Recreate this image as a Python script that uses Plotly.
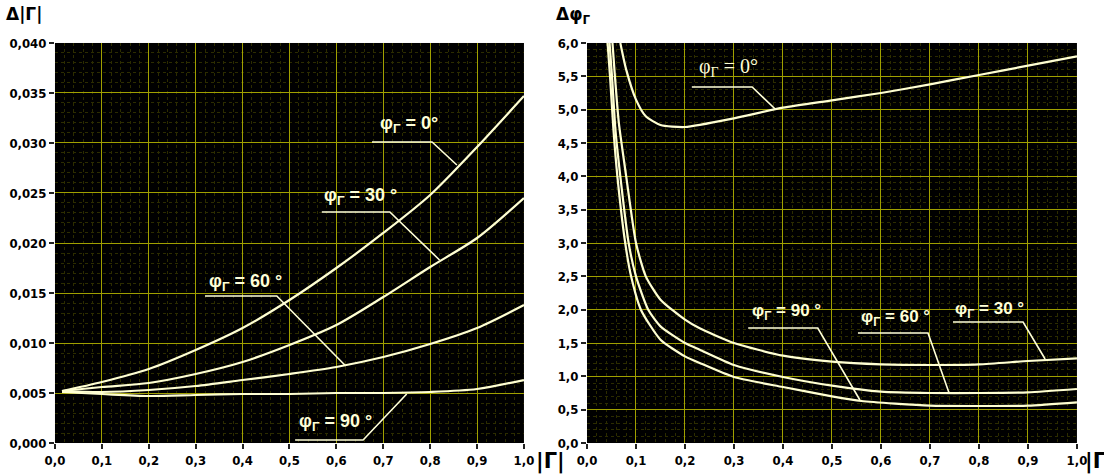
import plotly.graph_objects as go

# ---------------- data: left panel  Δ|Γ| vs |Γ| ----------------
xl_phi0 = [0.015, 0.1, 0.2, 0.3, 0.4, 0.5, 0.6, 0.7, 0.8, 0.9, 1.0]
yl_phi0 = [0.0052, 0.0061, 0.0074, 0.0093, 0.0115, 0.0143, 0.0175, 0.0210, 0.0248, 0.0296, 0.0347]

xl_phi30 = [0.015, 0.1, 0.2, 0.3, 0.4, 0.5, 0.6, 0.7, 0.8, 0.9, 1.0]
yl_phi30 = [0.0052, 0.0056, 0.0060, 0.0069, 0.0081, 0.0098, 0.0118, 0.0146, 0.0176, 0.0205, 0.0245]

xl_phi60 = [0.015, 0.1, 0.2, 0.3, 0.4, 0.5, 0.6, 0.7, 0.8, 0.9, 1.0]
yl_phi60 = [0.0052, 0.0051, 0.0053, 0.0057, 0.0063, 0.0069, 0.0076, 0.0086, 0.0099, 0.0115, 0.0138]

xl_phi90 = [0.015, 0.1, 0.2, 0.3, 0.4, 0.5, 0.6, 0.7, 0.8, 0.9, 1.0]
yl_phi90 = [0.0051, 0.0049, 0.0047, 0.0048, 0.0049, 0.0049, 0.0050, 0.0050, 0.0051, 0.0054, 0.0063]

# ---------------- data: right panel  Δφ vs |Γ| ----------------
xr_phi0 = [0.068, 0.08, 0.1, 0.12, 0.15, 0.2, 0.3, 0.4, 0.5, 0.6, 0.7, 0.8, 0.9, 1.0]
yr_phi0 = [6.0, 5.6, 5.15, 4.9, 4.77, 4.74, 4.87, 5.03, 5.14, 5.25, 5.38, 5.52, 5.66, 5.80]

xr_phi30 = [0.052, 0.057, 0.065, 0.08, 0.1, 0.12, 0.15, 0.2, 0.23, 0.3, 0.4, 0.5, 0.6, 0.7, 0.8, 0.9, 1.0]
yr_phi30 = [6.0, 5.5, 4.8, 4.0, 3.0, 2.5, 2.15, 1.85, 1.72, 1.50, 1.31, 1.22, 1.18, 1.17, 1.18, 1.23, 1.27]

xr_phi60 = [0.046, 0.051, 0.058, 0.068, 0.085, 0.1, 0.125, 0.15, 0.2, 0.23, 0.3, 0.4, 0.5, 0.6, 0.7, 0.8, 0.9, 1.0]
yr_phi60 = [6.0, 5.5, 4.7, 4.0, 3.0, 2.5, 2.0, 1.75, 1.50, 1.40, 1.17, 0.99, 0.86, 0.77, 0.75, 0.75, 0.76, 0.81]

xr_phi90 = [0.042, 0.047, 0.054, 0.062, 0.078, 0.09, 0.11, 0.15, 0.2, 0.23, 0.3, 0.4, 0.5, 0.56, 0.7, 0.8, 0.9, 1.0]
yr_phi90 = [6.0, 5.5, 4.7, 4.0, 3.0, 2.5, 2.0, 1.55, 1.30, 1.20, 0.99, 0.84, 0.70, 0.63, 0.56, 0.555, 0.56, 0.61]

# tick labels / ranges
x_ticks = [0.0, 0.1, 0.2, 0.3, 0.4, 0.5, 0.6, 0.7, 0.8, 0.9, 1.0]
yl_range = [0.0, 0.040]
yr_range = [0.0, 6.0]

# label texts and callout geometry (text anchor, underline, pointer tip)
labels_left = ["φ<sub>Γ</sub> = 0°", "φ<sub>Γ</sub> = 30 °", "φ<sub>Γ</sub> = 60 °", "φ<sub>Γ</sub> = 90 °"]
labels_left_text_xy = [(0.689, 0.0318), (0.569, 0.0246), (0.324, 0.0161), (0.516, 0.0021)]
labels_left_under = [(0.676, 0.804, 0.0301), (0.569, 0.714, 0.0231), (0.320, 0.473, 0.0147), (0.512, 0.657, 0.0003)]
labels_left_tip = [(0.857, 0.0278), (0.820, 0.0183), (0.620, 0.0077), (0.750, 0.0049)]

labels_right = ["φ<sub>Γ</sub> = 0°", "φ<sub>Γ</sub> = 90 °", "φ<sub>Γ</sub> = 60 °", "φ<sub>Γ</sub> = 30 °"]
labels_right_text_xy = [(0.224, 5.625), (0.333, 1.965), (0.555, 1.875), (0.747, 1.995)]
labels_right_under = [(0.214, 0.337, 5.34), (0.329, 0.471, 1.725), (0.553, 0.696, 1.65), (0.747, 0.890, 1.815)]
labels_right_tip = [(0.384, 5.01), (0.557, 0.645), (0.739, 0.75), (0.935, 1.26)]

CURVE = "#ffffd2"
GRID = "#a0a000"
MINOR = "#2c2c00"
LABEL = "#ffffd8"

fig = go.Figure()

for xs, ys in [(xl_phi0, yl_phi0), (xl_phi30, yl_phi30), (xl_phi60, yl_phi60), (xl_phi90, yl_phi90)]:
    fig.add_trace(go.Scatter(x=xs, y=ys, mode="lines", xaxis="x", yaxis="y",
                             line=dict(color=CURVE, width=2.2, shape="spline", smoothing=0.8),
                             showlegend=False, hoverinfo="skip"))

for xs, ys in [(xr_phi0, yr_phi0), (xr_phi30, yr_phi30), (xr_phi60, yr_phi60), (xr_phi90, yr_phi90)]:
    fig.add_trace(go.Scatter(x=xs, y=ys, mode="lines", xaxis="x2", yaxis="y2",
                             line=dict(color=CURVE, width=2.2, shape="spline", smoothing=0.6),
                             showlegend=False, hoverinfo="skip"))

annotations = []
shapes = []

for i, txt in enumerate(labels_left):
    tx, ty = labels_left_text_xy[i]
    annotations.append(dict(x=tx, y=ty, xref="x", yref="y", text=txt, showarrow=False,
                            xanchor="left", yanchor="middle",
                            font=dict(family="Liberation Sans, Arial", size=18, color=LABEL, weight="bold")))
    x0, x1, uy = labels_left_under[i]
    px, py = labels_left_tip[i]
    shapes.append(dict(type="path", xref="x", yref="y",
                       path=f"M {x0},{uy} L {x1},{uy} L {px},{py}",
                       line=dict(color=LABEL, width=1.6)))

for i, txt in enumerate(labels_right):
    tx, ty = labels_right_text_xy[i]
    if i == 0:
        f = dict(family="Liberation Serif, Times New Roman", size=20, color=LABEL)
    else:
        f = dict(family="Liberation Sans, Arial", size=17, color=LABEL, weight="bold")
    annotations.append(dict(x=tx, y=ty, xref="x2", yref="y2", text=txt, showarrow=False,
                            xanchor="left", yanchor="middle", font=f))
    x0, x1, uy = labels_right_under[i]
    px, py = labels_right_tip[i]
    shapes.append(dict(type="path", xref="x2", yref="y2",
                       path=f"M {x0},{uy} L {x1},{uy} L {px},{py}",
                       line=dict(color=LABEL, width=1.6)))

# axis titles
title_font = dict(family="DejaVu Sans, Verdana", size=17, color="black", weight="bold")
annotations.append(dict(x=0.004, y=0.995, xref="paper", yref="paper", text="Δ|Γ|", showarrow=False,
                        xanchor="left", yanchor="top", font=title_font))
annotations.append(dict(x=0.502, y=0.995, xref="paper", yref="paper", text="Δφ<sub>Γ</sub>", showarrow=False,
                        xanchor="left", yanchor="top", font=title_font))
xt_font = dict(family="DejaVu Sans, Verdana", size=21, color="black", weight="bold")
annotations.append(dict(x=0.4835, y=0.0, xref="paper", yref="paper", text="|Γ|", showarrow=False,
                        xanchor="left", yanchor="bottom", font=xt_font))
annotations.append(dict(x=0.9810, y=0.0, xref="paper", yref="paper", text="|Γ|", showarrow=False,
                        xanchor="left", yanchor="bottom", font=xt_font))

tick_font = dict(family="DejaVu Sans Condensed, DejaVu Sans, Verdana", size=13, color="black", weight="bold")

common_x = dict(range=[0, 1], tickvals=x_ticks, tickformat=".1f", showgrid=True, gridcolor=GRID, gridwidth=1,
                zeroline=False, showline=False, ticks="outside", ticklen=5, tickwidth=2, tickcolor="#222",
                tickfont=tick_font, fixedrange=True, automargin=False,
                minor=dict(dtick=0.02, showgrid=True, gridcolor=MINOR, griddash="dot", gridwidth=1, ticks=""))

common_y = dict(showgrid=True, gridcolor=GRID, gridwidth=1, zeroline=False, automargin=False,
                ticks="outside", ticklen=5, tickwidth=2, tickcolor="#222", tickfont=tick_font, fixedrange=True)

fig.update_layout(
    width=1104, height=476,
    margin=dict(l=0, r=0, t=0, b=0, autoexpand=False),
    paper_bgcolor="white", plot_bgcolor="black",
    separators=", ",
    showlegend=False,
    xaxis=dict(domain=[0.0498, 0.4746], anchor="y", **common_x),
    yaxis=dict(domain=[0.0693, 0.9097], anchor="x", range=yl_range, dtick=0.005, tick0=0,
               tickformat=".3f", **common_y,
               minor=dict(dtick=0.001, showgrid=True, gridcolor=MINOR, griddash="dot", gridwidth=1, ticks="")),
    xaxis2=dict(domain=[0.5317, 0.9755], anchor="y2", **common_x),
    yaxis2=dict(domain=[0.0693, 0.9097], anchor="x2", range=yr_range, dtick=0.5, tick0=0,
                tickformat=".1f", **common_y,
                minor=dict(dtick=0.1, showgrid=True, gridcolor=MINOR, griddash="dot", gridwidth=1, ticks="")),
    annotations=annotations,
    shapes=shapes,
)

fig.write_html("out.html", config={"displayModeBar": False},
               post_script="document.body.style.margin='0';document.body.style.overflow='hidden';")
